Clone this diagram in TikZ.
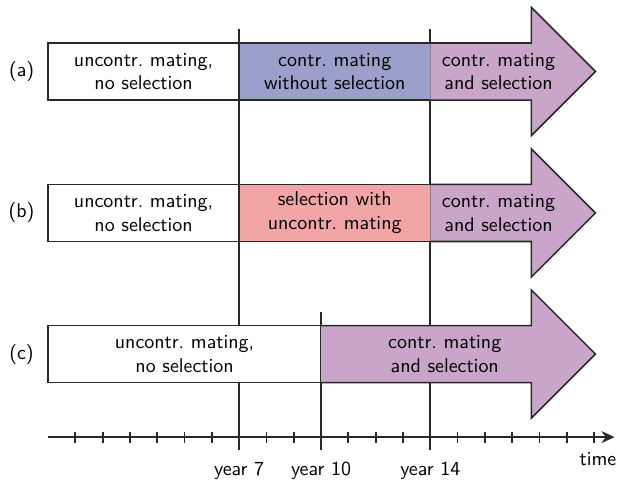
\documentclass[tikz,border=0pt]{standalone}
\usepackage{tikz}
\usetikzlibrary{arrows.meta}
\definecolor{blueish}{RGB}{155,160,203}
\definecolor{pinkish}{RGB}{242,165,165}
\definecolor{purplish}{RGB}{201,165,201}
\definecolor{edge}{RGB}{40,40,40}

\begin{document}
\begin{tikzpicture}[x=0.5cm, y=0.5cm, font=\sffamily\fontsize{10.4}{12.4}\selectfont, thick,
        phase/.style={draw=edge, minimum height=1.045cm, inner sep=0pt, align=center},
        finalphase/.style={fill=purplish, draw=edge},
        yearline/.style={draw=edge, line width=0.95pt}]
    \useasboundingbox (-1.76,-1.58) rectangle (20.84,16.01);
    % time axis
    \coordinate (t0) at (0,0);
    \coordinate (tend) at (20.75,0);
    \draw[yearline, -{Stealth[length=2.4mm, width=2.2mm]}] (t0) -- (tend);
    \foreach \i in {1,...,20} \draw[yearline] (\i,-0.2) -- (\i,0.2);
    \foreach \yr/\top in {7/14.95,10/4.58,14/14.95} {
        \coordinate (y\yr) at (\yr,\top);
        \coordinate (b\yr) at (\yr,-0.48);
        \draw[yearline] (y\yr) -- (b\yr);
        \node[anchor=base] (l\yr) at (\yr,-1.39) {year \yr};
    }
    \node[anchor=base east, inner sep=0pt] (time) at (20.84,-1.03) {time};
    % the three schemes
    \node[phase, fill=white, minimum width=3.5cm] (na) at (3.5,13.39) {uncontr.\ mating,\\ no selection};
    \node[phase, fill=blueish, minimum width=3.5cm] (ma) at (10.5,13.39) {contr.\ mating\\ without selection};
    \node[phase, fill=white, minimum width=3.5cm] (nb) at (3.5,8.21) {uncontr.\ mating,\\ no selection};
    \node[phase, fill=pinkish, minimum width=3.5cm] (mb) at (10.5,8.21) {selection with\\ uncontr.\ mating};
    \node[phase, fill=white, minimum width=5cm] (nc) at (5,3.04) {uncontr.\ mating,\\ no selection};
    \foreach \s/\m/\r/\c in {14/13.39/a/16.5,14/8.21/b/16.5,10/3.04/c/14.53} {
        \filldraw[finalphase] (\s,\m+1.045) -- (17.7,\m+1.045) -- (17.7,\m+2.35) -- (20.05,\m)
            -- (17.7,\m-2.35) -- (17.7,\m-1.045) -- (\s,\m-1.045);
        \node[align=center] (p\r) at (\c,\m) {contr.\ mating\\ and selection};
        \node (lab\r) at (-0.97,\m) {(\r)};
    }
\end{tikzpicture}
\end{document}
